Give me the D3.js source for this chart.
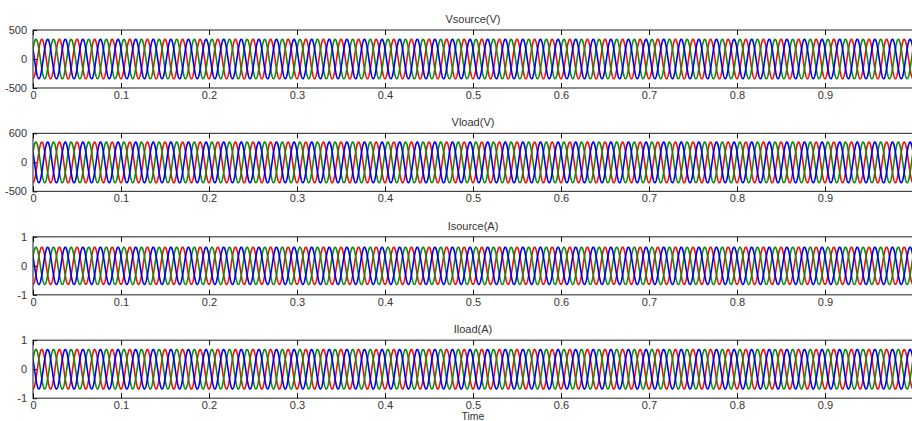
<!DOCTYPE html>
<html>
<head>
<meta charset="utf-8">
<script src="https://d3js.org/d3.v7.min.js"></script>
<style>
  body { margin: 0; background: #fff; }
  svg { display: block; }
  .tick text { font-family: "Liberation Sans", Arial, sans-serif; font-size: 11px; fill: #333; }
  .title { font-family: "Liberation Sans", Arial, sans-serif; font-size: 11px; fill: #333; }
</style>
</head>
<body>
<svg id="chart" width="912" height="421"></svg>
<script>
// panel contents, top to bottom
const panelTitles = ["Vsource(V)", "Vload(V)", "Isource(A)", "Iload(A)"];
const peakValues = [340, 350, 0.64, 0.68];
const yLimits = [500, 500, 1, 1];
const yTickValues = [[-500, 0, 500], [-500, 0, 500], [-1, 0, 1], [-1, 0, 1]];
const yTickLabels = [["-500", "0", "500"], ["-500", "0", "600"], ["-1", "0", "1"], ["-1", "0", "1"]];

// three phases: red lags nothing, green and blue +-120 deg
const phaseColors = ["#f01010", "#108a10", "#0000f0"];
const phaseShiftsDeg = [0, 120, -120];
const lineFrequency = 50;   // Hz
const timeEnd = 1;
const xTickValues = [0, 0.1, 0.2, 0.3, 0.4, 0.5, 0.6, 0.7, 0.8, 0.9];

const svg = d3.select("#chart");
const left = 33, plotWidth = 880;
const panelTop0 = 30, panelStep = 103.4, panelHeight = 58;

const x = d3.scaleLinear().domain([0, timeEnd]).range([left, left + plotWidth]);

// sample times for the waves
const samples = d3.range(0, timeEnd + 1e-9, 0.0002);

panelTitles.forEach((title, p) => {
    const top = panelTop0 + p * panelStep;
    const y = d3.scaleLinear().domain([-yLimits[p], yLimits[p]]).range([top + panelHeight, top]);

    const g = svg.append("g");

    const clipId = "clip" + p;
    g.append("clipPath").attr("id", clipId)
        .append("rect").attr("x", left).attr("y", top).attr("width", plotWidth).attr("height", panelHeight);

    const line = d3.line().x(d => x(d[0])).y(d => y(d[1]));
    phaseColors.forEach((col, k) => {
        const ph = phaseShiftsDeg[k] * Math.PI / 180;
        // red starts at its trough
        const pts = samples.map(t => [t, -peakValues[p] * Math.cos(2 * Math.PI * lineFrequency * t + ph)]);
        g.append("path")
            .attr("d", line(pts))
            .attr("clip-path", "url(#" + clipId + ")")
            .style("fill", "none")
            .style("stroke", col)
            .style("stroke-width", 1.6);
    });

    // box
    g.append("rect")
        .attr("x", left).attr("y", top).attr("width", plotWidth).attr("height", panelHeight)
        .style("fill", "none").style("stroke", "#444").style("stroke-width", 1.2);

    // bottom axis with labels, ticks pointing inside
    const xb = d3.axisBottom(x).tickValues(xTickValues).tickSizeInner(-5).tickSizeOuter(0).tickPadding(3)
        .tickFormat(d => d === 0 ? "0" : d3.format(".1f")(d));
    g.append("g").attr("transform", "translate(0," + (top + panelHeight) + ")").call(xb)
        .call(a => a.select(".domain").remove())
        .call(a => a.selectAll(".tick line").style("stroke", "#111"));

    // top ticks only
    const xt = d3.axisTop(x).tickValues(xTickValues).tickSizeInner(-5).tickSizeOuter(0).tickFormat("");
    g.append("g").attr("transform", "translate(0," + top + ")").call(xt)
        .call(a => a.select(".domain").remove())
        .call(a => a.selectAll(".tick line").style("stroke", "#111"));

    const yl = d3.axisLeft(y).tickValues(yTickValues[p]).tickSizeInner(-4).tickSizeOuter(0).tickPadding(6)
        .tickFormat((d, i) => yTickLabels[p][i]);
    g.append("g").attr("transform", "translate(" + left + ",0)").call(yl)
        .call(a => a.select(".domain").remove())
        .call(a => a.selectAll(".tick line").style("stroke", "#111"));

    g.append("text").attr("class", "title")
        .attr("x", x(0.5)).attr("y", top - 7)
        .attr("text-anchor", "middle")
        .text(title);
});

svg.append("text").attr("class", "title")
    .attr("x", x(0.5)).attr("y", 420)
    .attr("text-anchor", "middle")
    .style("font-size", "10.5px")
    .text("Time");
</script>
</body>
</html>
